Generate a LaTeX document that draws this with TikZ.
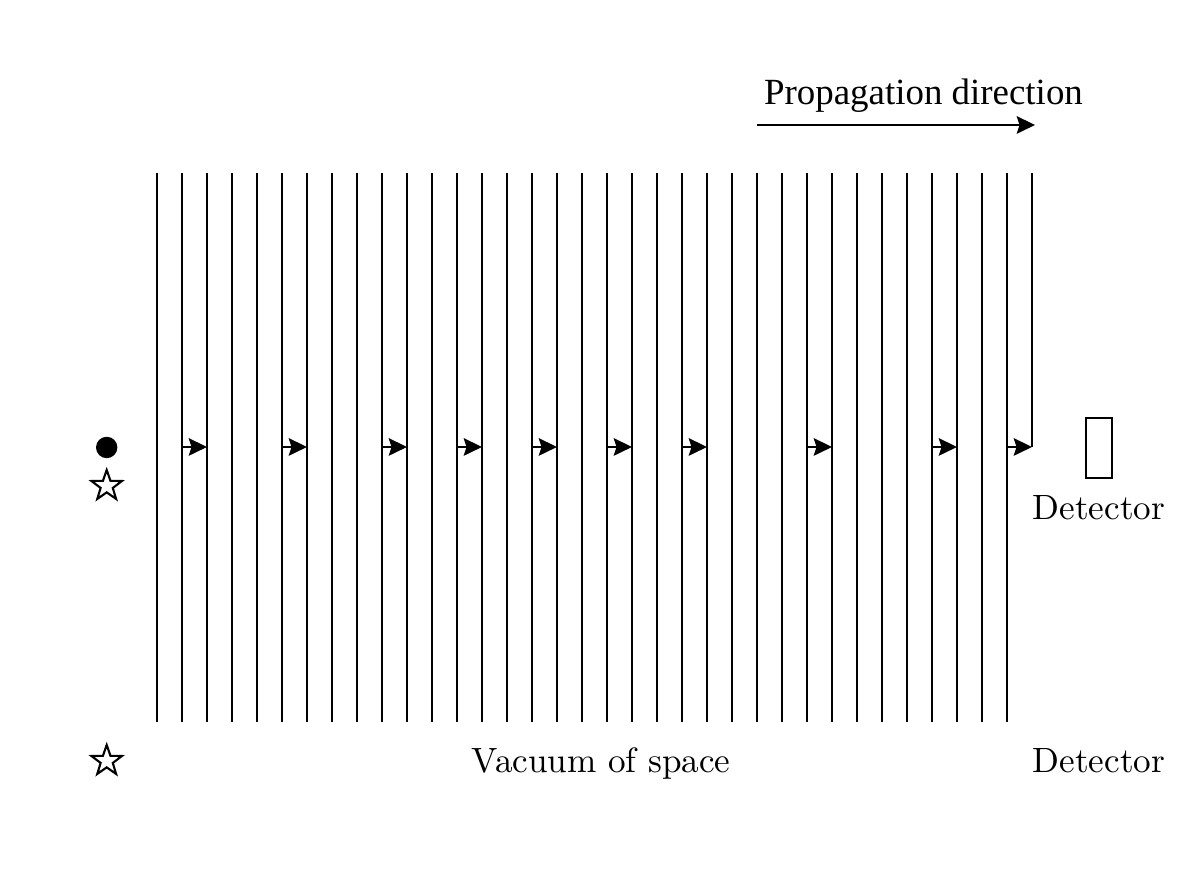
\documentclass[tikz,border=0pt]{standalone}
\usepackage{fontspec}
\newfontfamily\timesfont{Liberation Serif}
\usetikzlibrary{arrows.meta,shapes.geometric}
\begin{document}
\begin{tikzpicture}[
  wave/.style={line width=0.5pt},
  flow/.style={line width=0.5pt,-{Stealth[length=5.2pt,width=5pt,inset=0.8pt]}},
  hollowstar/.style={star,star points=5,star point ratio=2.5,draw,line width=0.6pt,inner sep=0pt,minimum size=0.32cm},
  label/.style={inner sep=0pt,anchor=base}
]
\useasboundingbox (0,0) rectangle (12,8.96);
% wavefronts
\foreach \i in {0,...,34}{
  \coordinate (t\i) at ({1.57+0.25*\i},7.23);
  \coordinate (b\i) at ({1.57+0.25*\i},1.74);
  \coordinate (m\i) at ({1.57+0.25*\i},4.49);
  \draw[wave] (t\i) -- (b\i);
}
\coordinate (t35) at (10.32,7.23);
\coordinate (m35) at (10.32,4.49);
\draw[wave] (t35) -- (m35);
% small arrows
\foreach \j/\k in {1/2,5/6,9/10,12/13,15/16,18/19,21/22,26/27,31/32,34/35}{
  \draw[flow] (m\j) -- (m\k);
}
% propagation arrow
\coordinate (ps) at (7.57,7.71);
\coordinate (pe) at (10.35,7.71);
\draw[flow] (ps) -- (pe);
\node[label] (prop) at (9.235,7.91) {\timesfont\fontsize{10.5}{12}\selectfont Propagation direction};
% source
\fill (1.067,4.485) circle (0.107) node (dot) {};
\node[hollowstar] (star1) at (1.067,4.10) {};
\node[hollowstar] (star2) at (1.067,1.35) {};
% detector
\draw[line width=0.6pt] (10.857,4.183) rectangle (11.12,4.777);
\coordinate (det) at (10.99,4.48);
\node[label] (detl1) at (10.99,3.76) {Detector};
\node[label] (vac) at (6.01,1.23) {Vacuum of space};
\node[label] (detl2) at (10.99,1.23) {Detector};
\end{tikzpicture}
\end{document}
